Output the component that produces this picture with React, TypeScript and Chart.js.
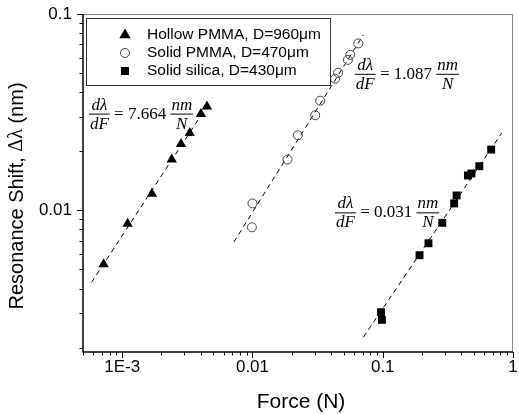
import React, { useEffect, useRef } from 'react';
import { Chart, registerables } from 'chart.js';

Chart.register(...registerables);

// ---- data ----
const hollowForce = [0.00072, 0.0011, 0.00169, 0.0024, 0.00283, 0.0033, 0.00402, 0.00447];
const hollowShift = [0.00532, 0.00856, 0.01216, 0.01815, 0.0218, 0.0248, 0.031, 0.0338];

const pmmaForce = [0.0099, 0.01, 0.0186, 0.0223, 0.0303, 0.0331, 0.0431, 0.0454, 0.054, 0.0563, 0.0649];
const pmmaShift = [0.0082, 0.01085, 0.01815, 0.02416, 0.0305, 0.0362, 0.0468, 0.0502, 0.0584, 0.0619, 0.0708];

const silicaForce = [0.097, 0.0986, 0.1916, 0.2244, 0.2864, 0.3532, 0.369, 0.4508, 0.4797, 0.5513, 0.68];
const silicaShift = [0.00303, 0.00277, 0.00591, 0.0068, 0.00864, 0.01085, 0.01191, 0.01506, 0.01541, 0.01679, 0.0204];

const hollowFitForce = [0.000582, 0.004736];
const hollowFitShift = [0.0043, 0.0359];
const pmmaFitForce = [0.0072, 0.071];
const pmmaFitShift = [0.0069, 0.0782];
const silicaFitForce = [0.071, 0.82];
const silicaFitShift = [0.00226, 0.0248];

const seriesNames = ['Hollow PMMA, D=960\u03bcm', 'Solid PMMA, D=470\u03bcm', 'Solid silica, D=430\u03bcm'];
const slopeLabels = ['7.664', '1.087', '0.031'];
// where each slope label sits (data coordinates: force, shift)
const slopeAtForce = [0.000555, 0.061, 0.043];
const slopeAtShift = [0.0311, 0.0496, 0.00977];

const xMin = 0.0005, xMax = 1;
const yMin = 0.0019, yMax = 0.1;
const xTickLabels: Record<string, string> = { '-3': '1E-3', '-2': '0.01', '-1': '0.1', '0': '1' };
const yTickLabels: Record<string, string> = { '-2': '0.01', '-1': '0.1' };

const SANS = '"Liberation Sans", Arial, sans-serif';
const SERIF = '"Liberation Serif", "Times New Roman", serif';

function decadeLabel(v: number, table: Record<string, string>) {
  const l = Math.log10(v);
  const r = Math.round(l);
  if (Math.abs(l - r) < 1e-6) return table[String(r)] ?? '';
  return '';
}

function toPts(xs: number[], ys: number[]) {
  return xs.map((x, i) => ({ x, y: ys[i] }));
}

function drawMarker(ctx: CanvasRenderingContext2D, kind: number, cx: number, cy: number) {
  ctx.save();
  ctx.beginPath();
  if (kind === 0) {
    const r = 6.5;
    ctx.moveTo(cx, cy - r);
    ctx.lineTo(cx + r * Math.sin(Math.PI / 3), cy + r / 2);
    ctx.lineTo(cx - r * Math.sin(Math.PI / 3), cy + r / 2);
    ctx.closePath();
    ctx.fillStyle = '#000';
    ctx.fill();
  } else if (kind === 1) {
    ctx.arc(cx, cy, 4.5, 0, Math.PI * 2);
    ctx.strokeStyle = '#444';
    ctx.lineWidth = 1;
    ctx.stroke();
  } else {
    ctx.fillStyle = '#000';
    ctx.fillRect(cx - 4, cy - 4, 8, 8);
  }
  ctx.restore();
}

function drawFraction(ctx: CanvasRenderingContext2D, x: number, y: number, num: string, den: string) {
  ctx.font = `italic 17px ${SERIF}`;
  const w = Math.max(ctx.measureText(num).width, ctx.measureText(den).width) + 2;
  ctx.textAlign = 'center';
  ctx.textBaseline = 'alphabetic';
  ctx.fillText(num, x + w / 2, y - 4);
  ctx.fillText(den, x + w / 2, y + 15);
  ctx.beginPath();
  ctx.moveTo(x, y + 0.5);
  ctx.lineTo(x + w, y + 0.5);
  ctx.lineWidth = 1;
  ctx.strokeStyle = '#000';
  ctx.stroke();
  return w;
}

function drawEquation(ctx: CanvasRenderingContext2D, x: number, y: number, value: string) {
  ctx.save();
  ctx.fillStyle = '#000';
  let cx = x;
  cx += drawFraction(ctx, cx, y, 'd\u03bb', 'dF');
  ctx.font = `17px ${SERIF}`;
  ctx.textAlign = 'left';
  ctx.textBaseline = 'alphabetic';
  const s = ' = ' + value + ' ';
  ctx.fillText(s, cx, y + 5);
  cx += ctx.measureText(s).width;
  drawFraction(ctx, cx, y, 'nm', 'N');
  ctx.restore();
}

const overlayPlugin = {
  id: 'overlay',
  afterDraw(chart: any) {
    const { ctx, chartArea: a } = chart;
    const xs = chart.scales.x;
    const ys = chart.scales.y;
    ctx.save();

    // frame
    ctx.strokeStyle = '#888';
    ctx.lineWidth = 1;
    ctx.beginPath();
    ctx.moveTo(a.left, a.top + 0.5);
    ctx.lineTo(a.right - 0.5, a.top + 0.5);
    ctx.lineTo(a.right - 0.5, a.bottom);
    ctx.stroke();

    ctx.strokeStyle = '#000';
    ctx.lineWidth = 1.5;
    ctx.beginPath();
    ctx.moveTo(a.left, a.top);
    ctx.lineTo(a.left, a.bottom);
    ctx.lineTo(a.right, a.bottom);
    ctx.stroke();

    // ticks
    ctx.lineWidth = 1;
    ctx.beginPath();
    for (let e = -4; e <= 0; e++) {
      for (let m = 1; m <= 9; m++) {
        const v = m * Math.pow(10, e);
        if (v >= xMin * 0.999 && v <= xMax * 1.001) {
          const px = Math.round(xs.getPixelForValue(v)) + 0.5;
          ctx.moveTo(px, a.bottom);
          ctx.lineTo(px, a.bottom + (m === 1 ? 6 : 3.5));
        }
        if (v >= yMin * 0.999 && v <= yMax * 1.001) {
          const py = Math.round(ys.getPixelForValue(v)) + 0.5;
          ctx.moveTo(a.left, py);
          ctx.lineTo(a.left - (m === 1 ? 6 : 3.5), py);
        }
      }
    }
    ctx.stroke();

    // axis titles
    ctx.fillStyle = '#000';
    ctx.font = `21px ${SANS}`;
    ctx.textAlign = 'center';
    ctx.textBaseline = 'middle';
    ctx.fillText('Force (N)', 301, 402);

    ctx.save();
    ctx.translate(17, 196);
    ctx.rotate(-Math.PI / 2);
    const parts: [string, string][] = [
      ['Resonance Shift, ', `20px ${SANS}`],
      ['\u0394\u03bb', `20px ${SERIF}`],
      [' (nm)', `20px ${SANS}`],
    ];
    let total = 0;
    for (const [t, f] of parts) { ctx.font = f; total += ctx.measureText(t).width; }
    let px = -total / 2;
    ctx.textAlign = 'left';
    ctx.textBaseline = 'middle';
    for (const [t, f] of parts) { ctx.font = f; ctx.fillText(t, px, 0); px += ctx.measureText(t).width; }
    ctx.restore();

    // legend
    ctx.fillStyle = '#fff';
    ctx.fillRect(86, 18, 244, 67);
    ctx.strokeStyle = '#333';
    ctx.lineWidth = 1;
    ctx.strokeRect(86.5, 18.5, 244, 67);
    ctx.font = `15.5px ${SANS}`;
    ctx.textAlign = 'left';
    ctx.textBaseline = 'middle';
    ctx.fillStyle = '#000';
    seriesNames.forEach((name, i) => {
      const ly = 35 + i * 18;
      drawMarker(ctx, i, 125, ly);
      ctx.fillStyle = '#000';
      ctx.fillText(name, 147, ly);
    });

    // slope equations
    slopeLabels.forEach((lab, i) => {
      drawEquation(ctx, xs.getPixelForValue(slopeAtForce[i]), ys.getPixelForValue(slopeAtShift[i]), lab);
    });

    ctx.restore();
  },
};

export default function App() {
  const ref = useRef<HTMLCanvasElement>(null);
  useEffect(() => {
    const fitStyle = {
      showLine: true,
      borderColor: '#000',
      borderWidth: 1,
      borderDash: [5, 4],
      pointRadius: 0,
      fill: false,
    };
    const chart = new Chart(ref.current as HTMLCanvasElement, {
      type: 'scatter',
      data: {
        datasets: [
          { label: seriesNames[0], data: toPts(hollowForce, hollowShift), pointStyle: 'triangle', pointRadius: 6, backgroundColor: '#000', borderColor: '#000', borderWidth: 0 },
          { label: seriesNames[1], data: toPts(pmmaForce, pmmaShift), pointStyle: 'circle', pointRadius: 4.5, backgroundColor: 'rgba(0,0,0,0)', borderColor: '#444', borderWidth: 1 },
          { label: seriesNames[2], data: toPts(silicaForce, silicaShift), pointStyle: 'rect', pointRadius: 5.6, backgroundColor: '#000', borderColor: '#000', borderWidth: 0 },
          { label: 'fit1', data: toPts(hollowFitForce, hollowFitShift), ...fitStyle },
          { label: 'fit2', data: toPts(pmmaFitForce, pmmaFitShift), ...fitStyle },
          { label: 'fit3', data: toPts(silicaFitForce, silicaFitShift), ...fitStyle },
        ] as any,
      },
      options: {
        animation: false,
        responsive: false,
        devicePixelRatio: 1,
        layout: { padding: { top: 14, right: 1, left: 0, bottom: 0 } },
        plugins: { legend: { display: false }, tooltip: { enabled: false }, title: { display: false } },
        scales: {
          x: {
            type: 'logarithmic',
            min: xMin,
            max: xMax,
            grid: { display: false, tickLength: 0 },
            border: { display: false },
            ticks: {
              autoSkip: false,
              maxRotation: 0,
              padding: 5,
              color: '#000',
              font: { family: SANS, size: 17 },
              callback: (v: any) => decadeLabel(Number(v), xTickLabels),
            },
            afterFit: (s: any) => { s.height = 62; s.paddingLeft = 0; s.paddingRight = 0; },
          },
          y: {
            type: 'logarithmic',
            min: yMin,
            max: yMax,
            grid: { display: false, tickLength: 0 },
            border: { display: false },
            ticks: {
              autoSkip: false,
              padding: 11,
              color: '#000',
              font: { family: SANS, size: 17 },
              callback: (v: any) => decadeLabel(Number(v), yTickLabels),
            },
            afterFit: (s: any) => { s.width = 83; s.paddingTop = 0; s.paddingBottom = 0; },
          },
        },
      } as any,
      plugins: [overlayPlugin],
    });
    return () => chart.destroy();
  }, []);
  return (
    <div style={{ position: 'absolute', left: 0, top: 0, width: 519, height: 414 }}>
      <canvas ref={ref} width={519} height={414} style={{ display: 'block', width: 519, height: 414 }} />
    </div>
  );
}
